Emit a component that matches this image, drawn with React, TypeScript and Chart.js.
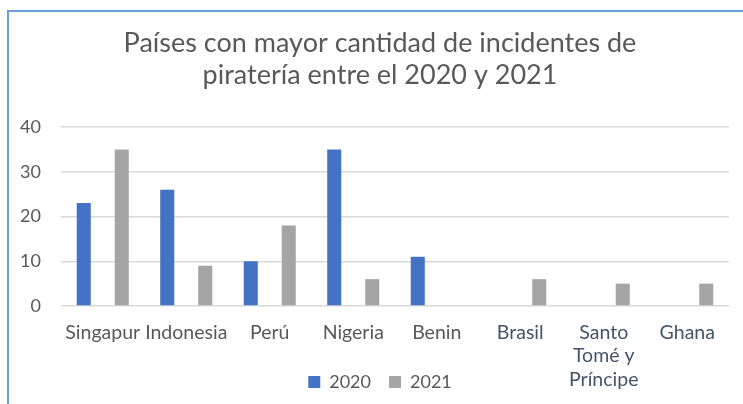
import { useEffect, useRef } from 'react';
import { Chart, registerables } from 'chart.js';

Chart.register(...registerables);

const categories: (string | string[])[] = [
  'Singapur',
  'Indonesia',
  'Perú',
  'Nigeria',
  'Benin',
  'Brasil',
  ['Santo', 'Tomé y', 'Príncipe'],
  'Ghana',
];
const values2020 = [23, 26, 10, 35, 11, 0, 0, 0];
const values2021 = [35, 9, 18, 6, 0, 6, 5, 5];
const seriesNames = ['2020', '2021'];
const titleLines = ['Países con mayor cantidad de incidentes de', 'piratería entre el 2020 y 2021'];
const yMin = 0;
const yMax = 40;
const yStep = 10;

const FONT = 'Lato, "Open Sans", sans-serif';
const TEXT = '#595959';
const TEXT_DARK = '#44546A';

export default function App() {
  const ref = useRef<HTMLCanvasElement | null>(null);

  useEffect(() => {
    if (!ref.current) return;
    const chart = new Chart(ref.current, {
      type: 'bar',
      data: {
        labels: categories,
        datasets: [
          {
            label: seriesNames[0],
            data: values2020,
            backgroundColor: '#4472C4',
            categoryPercentage: 0.91,
            barPercentage: 0.37,
          },
          {
            label: seriesNames[1],
            data: values2021,
            backgroundColor: '#A5A5A5',
            categoryPercentage: 0.91,
            barPercentage: 0.37,
          },
        ],
      },
      options: {
        animation: false,
        responsive: true,
        maintainAspectRatio: false,
        layout: { padding: { left: 31, right: 14, top: 27, bottom: 3 } },
        plugins: {
          title: {
            display: true,
            text: titleLines,
            color: TEXT,
            font: { family: FONT, size: 27, weight: 'normal', lineHeight: 32 / 27 },
            padding: { top: 0, bottom: 36 },
          },
          legend: {
            position: 'bottom',
            labels: {
              color: TEXT,
              font: { family: FONT, size: 18 },
              boxWidth: 12,
              boxHeight: 12,
              padding: 18,
            },
          },
          tooltip: { enabled: false },
        },
        scales: {
          x: {
            grid: { display: false, drawTicks: false },
            border: { display: false },
            ticks: {
              autoSkip: false,
              maxRotation: 0,
              minRotation: 0,
              padding: 15,
              color: (ctx: any) => (ctx.index >= 5 ? TEXT_DARK : TEXT),
              font: { family: FONT, size: 19.5, lineHeight: 1.2 },
            },
            afterFit: (scale: any) => {
              scale.height = 49;
              scale._computeLabelArea = () => undefined;
            },
          },
          y: {
            min: yMin,
            max: yMax,
            ticks: {
              stepSize: yStep,
              padding: 20,
              color: TEXT,
              font: { family: FONT, size: 18 },
            },
            grid: { color: '#D9D9D9', lineWidth: 1.5, drawTicks: false },
            border: { display: false },
            afterFit: (scale: any) => {
              scale.width = 30;
              scale._computeLabelArea = () => undefined;
            },
          },
        },
      },
    });
    return () => chart.destroy();
  }, []);

  return (
    <div style={{ position: 'fixed', left: 0, top: 0, width: 743, height: 404, background: '#fff' }}>
      <div
        style={{
          position: 'absolute',
          left: 7,
          top: 10,
          right: 0,
          bottom: 0,
          borderLeft: '2px solid #6A9FDB',
          borderTop: '2px solid #6A9FDB',
        }}
      />
      <div style={{ position: 'absolute', left: 0, top: 0, width: 743, height: 404 }}>
        <canvas ref={ref} />
      </div>
    </div>
  );
}
